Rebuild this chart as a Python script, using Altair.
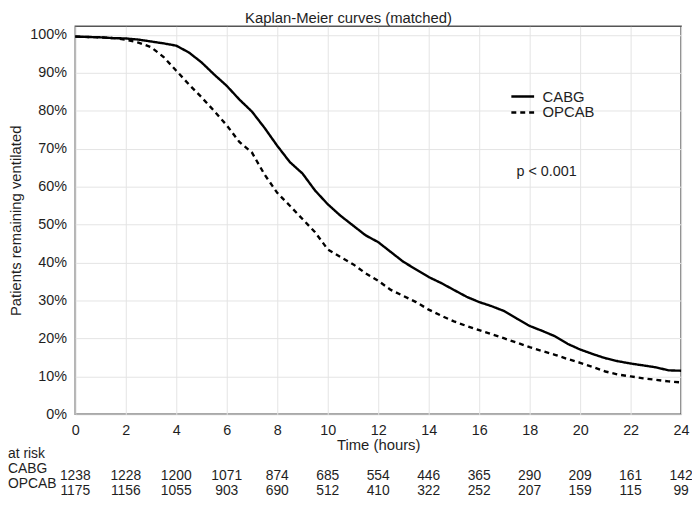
import altair as alt
import pandas as pd

FONT = "Liberation Sans"
INK = "#1e1e1e"

# Kaplan-Meier curves (hours, % remaining ventilated)
times = [0, 0.5, 1, 1.5, 2, 2.5, 3, 3.5, 4, 4.5, 5, 5.5, 6, 6.5, 7, 7.5, 8, 8.5,
         9, 9.5, 10, 10.5, 11, 11.5, 12, 12.5, 13, 13.5, 14, 14.5, 15, 15.5, 16,
         16.5, 17, 17.5, 18, 18.5, 19, 19.5, 20, 20.5, 21, 21.5, 22, 22.5, 23,
         23.5, 24]
cabg = [99.6, 99.5, 99.4, 99.2, 99.1, 98.8, 98.3, 97.8, 97.2, 95.4, 92.8, 89.6,
        86.6, 83.0, 79.8, 75.5, 70.8, 66.5, 63.5, 59.0, 55.4, 52.4, 49.8, 47.2,
        45.4, 42.8, 40.2, 38.2, 36.2, 34.6, 32.8, 31.0, 29.6, 28.5, 27.2, 25.2,
        23.3, 22.0, 20.6, 18.6, 17.1, 15.9, 14.8, 14.0, 13.4, 12.9, 12.4, 11.6,
        11.5]
opcab = [99.6, 99.5, 99.4, 99.2, 98.8, 98.0, 96.8, 94.2, 90.6, 87.0, 83.6, 80.0,
         76.2, 71.8, 69.0, 63.2, 58.4, 55.0, 51.5, 48.0, 43.5, 41.5, 39.6, 37.2,
         35.2, 32.8, 31.2, 29.6, 27.6, 26.0, 24.5, 23.3, 22.2, 21.1, 20.0, 18.9,
         17.7, 16.7, 15.7, 14.6, 13.6, 12.5, 11.3, 10.5, 10.0, 9.5, 9.1, 8.7, 8.4]

groups = ["CABG", "OPCAB"]

# numbers at risk
risk_times = [0, 2, 4, 6, 8, 10, 12, 14, 16, 18, 20, 22, 24]
risk_cabg = [1238, 1228, 1200, 1071, 874, 685, 554, 446, 365, 290, 209, 161, 142]
risk_opcab = [1175, 1156, 1055, 903, 690, 512, 410, 322, 252, 207, 159, 115, 99]
row_names = ["at risk", "CABG", "OPCAB"]

x_ticks = list(range(0, 25, 2))
y_ticks = [0, 0.1, 0.2, 0.3, 0.4, 0.5, 0.6, 0.7, 0.8, 0.9, 1.0]

curves = pd.concat([
    pd.DataFrame({"time": times, "surv": [v / 100 for v in cabg], "group": groups[0]}),
    pd.DataFrame({"time": times, "surv": [v / 100 for v in opcab], "group": groups[1]}),
])
risk_c = pd.DataFrame({"time": risk_times, "n": risk_cabg})
risk_o = pd.DataFrame({"time": risk_times, "n": risk_opcab})

W, H = 612, 392

xscale = alt.Scale(domain=[0, 24], nice=False, zero=False)
yscale = alt.Scale(domain=[0, 1.023], nice=False, zero=False)

x_axis = alt.Axis(
    values=x_ticks, tickCount=13, title="Time (hours)", labelPadding=9,
    titleY=24, titleBaseline="top",
    ticks=False, domain=False, gridColor="#e4e4e4", labelFlush=False,
    labelOverlap=False)
y_axis = alt.Axis(
    values=y_ticks, tickCount=11, format=".0%", title="Patients remaining ventilated",
    labelPadding=9, ticks=False, domain=False, gridColor="#e4e4e4",
    labelOverlap=False, labelFlush=False,
    titleX=-55, titleY=H / 2, titleAngle=270, titleBaseline="alphabetic",
    titleAlign="center")

lines = alt.Chart(curves).mark_line(color="black", strokeWidth=2.4).encode(
    x=alt.X("time:Q", scale=xscale, axis=x_axis),
    y=alt.Y("surv:Q", scale=yscale, axis=y_axis),
    strokeDash=alt.StrokeDash("group:N", scale=alt.Scale(domain=groups, range=[[1, 0], [5, 4]]),
                              legend=alt.Legend(
                                  title=None, orient="none", legendX=439, legendY=63,
                                  symbolType="stroke", symbolSize=529, symbolStrokeWidth=2.5,
                                  symbolStrokeColor="black", labelFontSize=15, labelFont=FONT,
                                  labelColor=INK, labelOffset=7, clipHeight=16, rowPadding=0,
                                  padding=0)),
)

pval = alt.Chart(pd.DataFrame({"t": ["p < 0.001"]})).mark_text(
    fontSize=14.5, font=FONT, color=INK, align="center", baseline="middle"
).encode(x=alt.X(datum=18.67, scale=xscale, axis=x_axis),
         y=alt.Y(datum=0.64, scale=yscale, axis=y_axis), text="t:N")

txt = dict(fontSize=14, font=FONT, color=INK, baseline="middle")
row_c = alt.Chart(risk_c).mark_text(align="center", **txt).encode(
    x=alt.X("time:Q", scale=xscale, axis=x_axis), y=alt.value(H + 62), text="n:Q")
row_o = alt.Chart(risk_o).mark_text(align="center", **txt).encode(
    x=alt.X("time:Q", scale=xscale, axis=x_axis), y=alt.value(H + 77), text="n:Q")

label_layers = [
    alt.Chart(pd.DataFrame({"lab": [name]})).mark_text(align="left", **txt).encode(
        x=alt.value(-68), y=alt.value(H + off), text="lab:N")
    for name, off in zip(row_names, [40, 55, 70])
]

chart = alt.layer(lines, pval, row_c, row_o, *label_layers).properties(
    width=W, height=H,
    title=alt.TitleParams("Kaplan-Meier curves (matched)", fontSize=15, font=FONT,
                          fontWeight="normal", color=INK, anchor="middle", dx=-30,
                          offset=0),
    autosize=alt.AutoSizeParams(type="none"),
    padding={"left": 68, "top": 16, "right": 11, "bottom": 82},
).configure_view(stroke="#555555", strokeWidth=1.5).configure_axis(
    labelFont=FONT, labelFontSize=14.5, labelColor=INK,
    titleFont=FONT, titleFontSize=15, titleFontWeight="normal", titleColor=INK,
    gridWidth=1,
)

chart.save("out.html", embed_options={"renderer": "svg", "actions": False})
